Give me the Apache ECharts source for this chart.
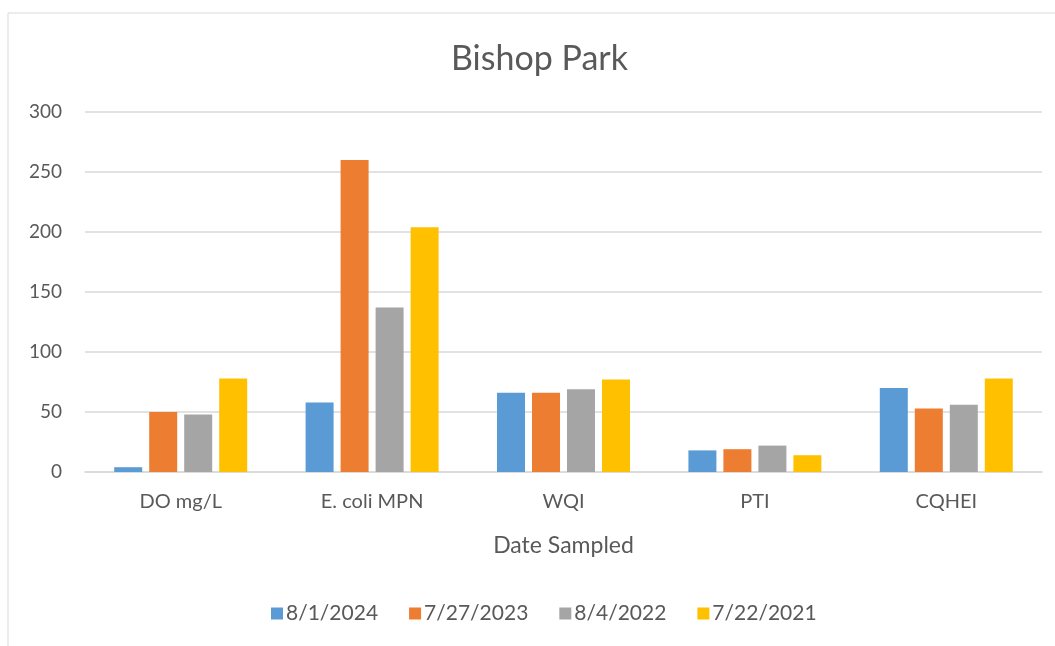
<!DOCTYPE html>
<html>
<head>
<meta charset="UTF-8">
<title>Bishop Park</title>
<script src="https://cdn.jsdelivr.net/npm/echarts@6/dist/echarts.min.js"></script>
<style>
  html, body { margin: 0; padding: 0; background: #fff; }
</style>
</head>
<body>
	<div id="chart" style="width: 1055px;height:646px;"></div>
	<script type="text/javascript">
		// categories and sample dates
		var categories = [ 'DO mg/L', 'E. coli MPN', 'WQI', 'PTI', 'CQHEI' ];
		var dates = [ '8/1/2024', '7/27/2023', '8/4/2022', '7/22/2021' ];

		// values per sample date
		var d2024 = [ 4, 58, 66, 18, 70 ];
		var d2023 = [ 50, 260, 66, 19, 53 ];
		var d2022 = [ 48, 137, 69, 22, 56 ];
		var d2021 = [ 78, 204, 77, 14, 78 ];

		var colors = [ '#5B9BD5', '#ED7D31', '#A5A5A5', '#FFC000' ];
		var seriesData = [ d2024, d2023, d2022, d2021 ];
		var FONT = 'Lato, "Open Sans", sans-serif';
		var TEXT = '#595959';

		var myChart = echarts.init(document.getElementById('chart'));

		var series = [];
		for (var i = 0; i < dates.length; i++) {
			series.push({
				name : dates[i],
				type : 'bar',
				barWidth : 28,
				barGap : '25%',
				itemStyle : {
					color : colors[i]
				},
				data : seriesData[i]
			});
		}

		var option = {
			animation : false,
			color : colors,
			graphic : [ {
				type : 'rect',
				shape : { x : 8, y : 13, width : 1100, height : 700 },
				style : { fill : 'none', stroke : '#D9D9D9', lineWidth : 1 },
				silent : true
			} ],
			title : {
				text : 'Bishop Park',
				left : 446,
				top : 37,
				textStyle : {
					fontFamily : FONT,
					fontWeight : 'normal',
					fontSize : 34,
					color : TEXT
				}
			},
			legend : {
				bottom : 17,
				left : 266,
				itemWidth : 12,
				itemHeight : 12,
				itemGap : 31,
				icon : 'rect',
				textStyle : {
					fontFamily : FONT,
					fontSize : 21,
					color : TEXT,
					padding : [ 0, 0, 0, -2 ]
				},
				data : dates
			},
			grid : {
				left : 85,
				right : 13,
				top : 112,
				bottom : 174
			},
			xAxis : {
				type : 'category',
				data : categories,
				name : 'Date Sampled',
				nameLocation : 'middle',
				nameGap : 62,
				nameTextStyle : {
					fontFamily : FONT,
					fontSize : 23,
					color : TEXT
				},
				axisLine : {
					lineStyle : { color : '#D9D9D9', width : 1.5 }
				},
				axisTick : { show : false },
				axisLabel : {
					margin : 20,
					fontFamily : FONT,
					fontSize : 20,
					color : TEXT
				}
			},
			yAxis : {
				type : 'value',
				min : 0,
				max : 300,
				interval : 50,
				axisLine : { show : false },
				axisTick : { show : false },
				axisLabel : {
					margin : 23,
					fontFamily : FONT,
					fontSize : 19,
					color : TEXT
				},
				splitLine : {
					lineStyle : { color : '#D9D9D9', width : 1.5 }
				}
			},
			series : series
		};

		myChart.setOption(option);
	</script>
</body>
</html>
